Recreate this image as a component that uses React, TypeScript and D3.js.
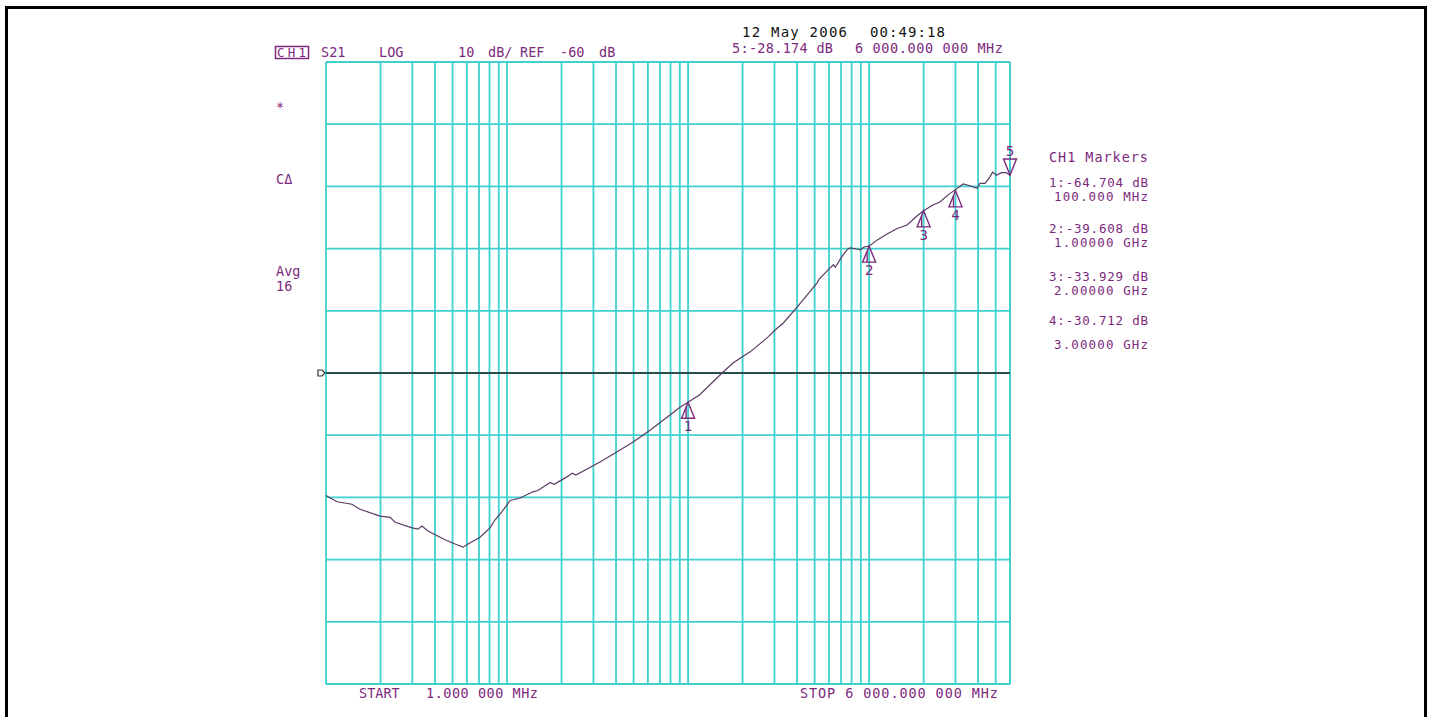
import React from 'react';
import * as d3 from 'd3';

// trace
const freqMHz = [
  1, 1.15, 1.39, 1.54, 1.99, 2.26, 2.41, 2.99, 3.22, 3.39, 3.66, 4.54, 5.16, 5.71,
  6.09, 7.09, 8.05, 8.59, 9.38, 10, 10.4, 11.8, 13.9, 14.8, 17.3, 18.2, 21.4, 22.9,
  24, 32.6, 40.4, 49.7, 61.6, 76.5, 90.2, 100, 116, 154, 177, 220, 272, 310, 335,
  400, 516, 530, 609, 635, 650, 718, 760, 785, 868, 890, 945, 1000, 1110, 1250,
  1420, 1620, 1830, 2000, 2250, 2460, 2720, 2970, 3310, 3600, 3940, 4100, 4370,
  4640, 4810, 5050, 5380, 5720, 6000,
];
const s21dB = [
  -79.7, -80.7, -81.1, -81.9, -83.0, -83.2, -84.0, -84.9, -85.1, -84.6, -85.4, -86.8, -87.5, -88.0,
  -87.5, -86.4, -84.9, -83.6, -82.3, -81.2, -80.5, -80.1, -79.1, -78.9, -77.6, -77.9, -76.7, -76.1,
  -76.4, -74.3, -72.7, -71.1, -69.2, -67.1, -65.5, -64.7, -63.5, -60.0, -58.4, -56.6, -54.4, -52.8, -52.0,
  -49.4, -45.5, -44.9, -43.1, -42.6, -43.0, -41.0, -40.1, -39.9, -40.1, -40.2, -39.7, -39.6, -38.6, -37.7,
  -36.8, -36.2, -34.8, -33.9, -33.0, -32.5, -31.4, -30.6, -29.6, -29.9, -30.3, -29.5, -29.5,
  -28.5, -27.7, -28.2, -27.8, -27.8, -28.2,
];

const markerIds = ['1', '2', '3', '4', '5'];
const markerFreq = [100, 1000, 2000, 3000, 6000];
const markerDb = [-64.704, -39.608, -33.929, -30.712, -28.174];

const markerLines = [
  ['1:-64.704 dB', '100.000 MHz'],
  ['2:-39.608 dB', '1.00000 GHz'],
  ['3:-33.929 dB', '2.00000 GHz'],
  ['4:-30.712 dB', '3.00000 GHz'],
];

const decades = [1, 10, 100, 1000];
const steps = [1, 2, 3, 4, 5, 6, 7, 8, 9];
const dbTicks = [-10, -20, -30, -40, -50, -60, -70, -80, -90, -100, -110];
const refDb = -60;

const GRID = '#3fd0d0';
const PURPLE = '#7d2a7d';
const FONT = '"DejaVu Sans Mono", "Liberation Mono", monospace';

export default function App() {
  const left = 326, right = 1010, top = 62, bottom = 684;

  const x = d3.scaleLog().domain([1, 6000]).range([left, right]);
  const y = d3.scaleLinear().domain([-110, -10]).range([bottom, top]);

  const gridFreqs = decades.flatMap(d => steps.map(s => d * s)).filter(f => f <= 6000);

  const line = d3.line<number>()
    .x((_, i) => x(freqMHz[i]))
    .y(d => y(d));

  const txt = (s: string, px: number, py: number, extra: any = {}) => (
    <text x={px} y={py} fontFamily={FONT} fontSize={13.5} fill={PURPLE} {...extra}>{s}</text>
  );

  return (
    <svg width={1431} height={717} style={{ position: 'absolute', left: 0, top: 0, background: '#fff' }}>
      <rect x={6.5} y={7.5} width={1419} height={760} fill="none" stroke="#000" strokeWidth={3} />

      {/* grid */}
      <g stroke={GRID} strokeWidth={1.8}>
        {gridFreqs.map(f => (
          <line key={'v' + f} x1={x(f)} x2={x(f)} y1={top} y2={bottom} />
        ))}
        <line x1={right} x2={right} y1={top} y2={bottom} />
        {dbTicks.map(d => (
          <line key={'h' + d} x1={left} x2={right} y1={y(d)} y2={y(d)} />
        ))}
      </g>

      {/* reference line */}
      <line x1={left} x2={right} y1={y(refDb)} y2={y(refDb)} stroke="#222" strokeWidth={1.5} />
      <path
        d={`M${left - 8},${y(refDb) - 3} L${left - 4},${y(refDb) - 3} L${left - 1},${y(refDb)} L${left - 4},${y(refDb) + 3} L${left - 8},${y(refDb) + 3} Z`}
        fill="none" stroke="#333" strokeWidth={1.2}
      />

      {/* trace */}
      <path d={line(s21dB) || ''} fill="none" stroke="#5b3a63" strokeWidth={1.2} />

      {/* markers */}
      {markerIds.map((id, i) => {
        const mx = x(markerFreq[i]);
        const my = y(markerDb[i]);
        if (id === '5') {
          return (
            <g key={id} stroke={PURPLE} fill="none" strokeWidth={1.4}>
              <path d={`M${mx},${my} L${mx - 6.5},${my - 16} L${mx + 6.5},${my - 16} Z`} />
              <text x={mx} y={my - 19} textAnchor="middle" fontFamily={FONT} fontSize={14} fill={PURPLE} stroke="none">{id}</text>
            </g>
          );
        }
        return (
          <g key={id} stroke={PURPLE} fill="none" strokeWidth={1.4}>
            <path d={`M${mx},${my} L${mx - 6.5},${my + 16} L${mx + 6.5},${my + 16} Z`} />
            <line x1={mx - 2} x2={mx - 2} y1={my + 5} y2={my + 16} />
            <text x={mx} y={my + 29} textAnchor="middle" fontFamily={FONT} fontSize={14} fill={PURPLE} stroke="none">{id}</text>
          </g>
        );
      })}

      {/* header */}
      <text x={742} y={37} fontFamily={FONT} fontSize={14} fill="#111" textLength={105}>12 May 2006</text>
      <text x={870} y={37} fontFamily={FONT} fontSize={14} fill="#111" textLength={75}>00:49:18</text>

      <rect x={275.5} y={46.5} width={33} height={12} fill="none" stroke={PURPLE} strokeWidth={1.5} />
      {txt('CH1', 277, 57, { fontSize: 12.5, textLength: 29 })}
      {txt('S21', 321, 57)}
      {txt('LOG', 379, 57)}
      {txt('10', 458, 57)}
      {txt('dB/', 488, 57)}
      {txt('REF', 520, 57)}
      {txt('-60', 560, 57)}
      {txt('dB', 599, 57)}
      {txt('5:-28.174 dB', 732, 53, { textLength: 101 })}
      {txt('6 000.000 000 MHz', 855, 53, { textLength: 148 })}

      {/* left annotations */}
      {txt('*', 276, 112)}
      {txt('CΔ', 276, 184)}
      {txt('Avg', 276, 276)}
      {txt('16', 276, 291)}

      {/* marker table */}
      {txt('CH1 Markers', 1049, 162, { textLength: 99 })}
      {markerLines.map((pair, i) => {
        const base = [187, 233, 281, 325][i];
        const second = [201, 247, 295, 349][i];
        return (
          <g key={pair[0]}>
            {txt(pair[0], 1049, base, { textLength: 99, fontSize: 12.5 })}
            {txt(pair[1], 1148, second, { textAnchor: 'end', fontSize: 12.5, textLength: 94 })}
          </g>
        );
      })}

      {/* footer */}
      {txt('START', 359, 698)}
      {txt('1.000 000 MHz', 426, 698, { textLength: 112 })}
      {txt('STOP 6 000.000 000 MHz', 800, 698, { textLength: 198 })}
    </svg>
  );
}
